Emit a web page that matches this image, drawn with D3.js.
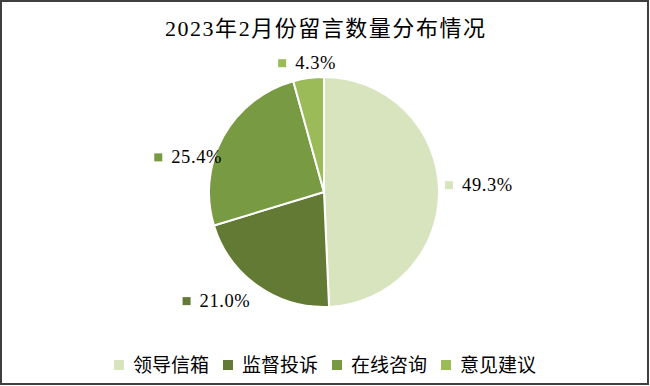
<!DOCTYPE html>
<html><head><meta charset="utf-8">
<script src="https://cdn.jsdelivr.net/npm/d3@7"></script>
<style>body{margin:0;background:#fff}svg{display:block}</style>
</head><body>
<svg id="c" width="650" height="386"></svg>
<script>
const title = "2023年2月份留言数量分布情况";
const categories = ["领导信箱", "监督投诉", "在线咨询", "意见建议"];
const values = [49.3, 21.0, 25.4, 4.3];
const labels = ["49.3%", "21.0%", "25.4%", "4.3%"];
const colors = ["#D7E4BD", "#637A34", "#789A43", "#9BBB59"];

const W = 650, H = 386;
const cx = 324, cy = 192, R = 115;
const svg = d3.select("#c");
const cjk = "'Liberation Serif','Noto Sans CJK SC',serif";

svg.append("rect").attr("x", 1).attr("y", 1).attr("width", W - 3).attr("height", H - 3)
  .attr("fill", "#fff").attr("stroke", "#3f3f3f").attr("stroke-width", 2);

const tt = svg.append("text").attr("x", W / 2).attr("y", 36).attr("text-anchor", "middle")
  .style("font-family", cjk).style("font-size", "22px").attr("fill", "#000").text(title);
// stretch title to the reference width
const tw0 = tt.node().getComputedTextLength();
tt.attr("textLength", 320).attr("lengthAdjust", "spacing");

const pie = d3.pie().sort(null).value(d => d)(values);
const arc = d3.arc().innerRadius(0).outerRadius(R);
const g = svg.append("g").attr("transform", `translate(${cx},${cy})`);
g.selectAll("path").data(pie).join("path")
  .attr("d", arc).attr("fill", (d, i) => colors[i])
  .attr("stroke", "#fff").attr("stroke-width", 2);

// data labels around an ellipse at the slice mid-angles
const nudge = [[0, -4], [-18, 3], [0, 28], [4, 0]];
pie.forEach((d, i) => {
  const a = (d.startAngle + d.endAngle) / 2;
  const x = cx + 155 * Math.sin(a) + nudge[i][0];
  const y = cy - 130 * Math.cos(a) + nudge[i][1];
  const lg = svg.append("g");
  const t = lg.append("text").attr("y", y + 6)
    .style("font-family", "'Liberation Serif',serif").style("font-size", "18.5px")
    .style("letter-spacing", "0.6px").attr("fill", "#000").text(labels[i]);
  const tw = t.node().getComputedTextLength();
  const total = 8 + 9 + tw;
  const x0 = x - total / 2;
  lg.append("rect").attr("x", x0).attr("y", y - 4).attr("width", 8).attr("height", 8).attr("fill", colors[i]);
  t.attr("x", x0 + 17);
});

// legend
const leg = svg.append("g");
let lx = 0;
categories.forEach((c, i) => {
  const it = leg.append("g");
  it.append("rect").attr("x", 0).attr("y", -5).attr("width", 10).attr("height", 10).attr("fill", colors[i]);
  const t = it.append("text").attr("x", 19).attr("y", 7)
    .style("font-family", cjk).style("font-size", "19px").attr("fill", "#000").text(c);
  const w = 19 + t.node().getComputedTextLength();
  it.attr("transform", `translate(${lx},0)`);
  lx += w + 14;
});
const legW = lx - 14;
leg.attr("transform", `translate(${(W - legW) / 2},365)`);
</script>
</body></html>
